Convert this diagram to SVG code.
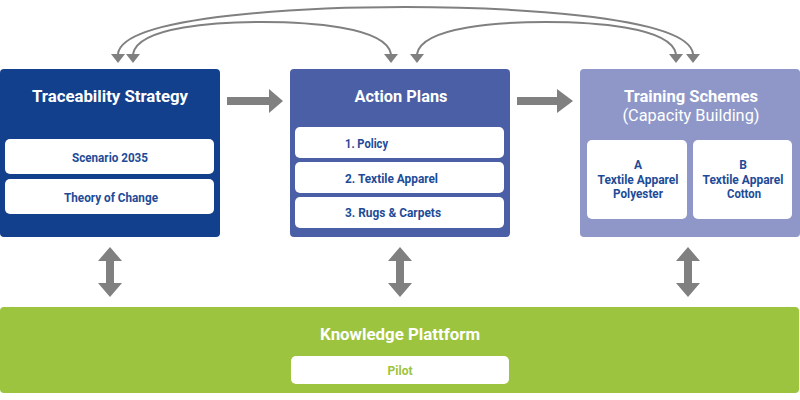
<svg xmlns="http://www.w3.org/2000/svg" width="800" height="400" viewBox="0 0 800 400">
<style>
.t{font-family:Roboto,"Liberation Sans",sans-serif;font-weight:700;fill:#fff;text-anchor:middle}
.s{font-family:Roboto,"Liberation Sans",sans-serif;font-weight:700;fill:#1E4B97;font-size:12px}
.c{text-anchor:middle}
.sub{fill:#fff}
.curve{fill:none;stroke:#808080;stroke-width:2}
.arr{fill:#808080}
</style>
<defs>
<marker id="ah" viewBox="0 0 14 10" refX="7" refY="9" markerWidth="14" markerHeight="10" markerUnits="userSpaceOnUse" orient="auto-start-reverse">
<path d="M0,0 L14,0 L7,10 Z" fill="#808080" transform="rotate(-90 7 5)"/>
</marker>
</defs>
<g id="connectors">
<path class="curve" d="M118,54 C122,14 320,7 405,7 C490,7 689,14 693,54"/>
<path class="curve" d="M133,54 C138,26 220,22 262,22 C304,22 386,26 391,54"/>
<path class="curve" d="M417,54 C422,26 504,22 546,22 C588,22 671,26 676,54"/>
<path class="arr" d="M111,54 L125,54 L118,63 Z"/>
<path class="arr" d="M126,54 L140,54 L133,63 Z"/>
<path class="arr" d="M384,54 L398,54 L391,63 Z"/>
<path class="arr" d="M410,54 L424,54 L417,63 Z"/>
<path class="arr" d="M669,54 L683,54 L676,63 Z"/>
<path class="arr" d="M686,54 L700,54 L693,63 Z"/>
<path class="arr" d="M227,97 L269,97 L269,89 L283,101 L269,113 L269,105 L227,105 Z"/>
<path class="arr" d="M517,97 L557,97 L557,89 L573,101 L557,113 L557,105 L517,105 Z"/>
<path class="arr" d="M110,247 L122,261 L114,261 L114,283 L122,283 L110,297 L98,283 L106,283 L106,261 L98,261 Z"/>
<path class="arr" d="M400,247 L412,261 L404,261 L404,283 L412,283 L400,297 L388,283 L396,283 L396,261 L388,261 Z"/>
<path class="arr" d="M688,247 L700,261 L692,261 L692,283 L700,283 L688,297 L676,283 L684,283 L684,261 L676,261 Z"/>
</g>
<g id="traceability">
<rect x="0" y="69" width="220" height="168" rx="4" fill="#12408C"/>
<text class="t" x="110" y="102" font-size="16" textLength="156" lengthAdjust="spacingAndGlyphs">Traceability Strategy</text>
<rect class="sub" x="5" y="139" width="209" height="35" rx="5"/>
<text class="s c" x="110" y="162" textLength="76" lengthAdjust="spacingAndGlyphs">Scenario 2035</text>
<rect class="sub" x="5" y="179" width="209" height="35" rx="5"/>
<text class="s c" x="111" y="202" textLength="94" lengthAdjust="spacingAndGlyphs">Theory of Change</text>
</g>
<g id="action">
<rect x="290" y="69" width="220" height="168" rx="4" fill="#4A5FA5"/>
<text class="t" x="401" y="102" font-size="16" textLength="93" lengthAdjust="spacingAndGlyphs">Action Plans</text>
<rect class="sub" x="295" y="127" width="209" height="31" rx="5"/>
<text class="s" x="345" y="148" textLength="43" lengthAdjust="spacingAndGlyphs">1. Policy</text>
<rect class="sub" x="295" y="162" width="209" height="31" rx="5"/>
<text class="s" x="345" y="183" textLength="93" lengthAdjust="spacingAndGlyphs">2. Textile Apparel</text>
<rect class="sub" x="295" y="197" width="209" height="31" rx="5"/>
<text class="s" x="345" y="217" textLength="96" lengthAdjust="spacingAndGlyphs">3. Rugs &amp; Carpets</text>
</g>
<g id="training">
<rect x="580" y="69" width="220" height="168" rx="4" fill="#8E97C8"/>
<text class="t" x="691" y="102" font-size="16" textLength="134" lengthAdjust="spacingAndGlyphs">Training Schemes</text>
<text class="t" x="691" y="121" font-size="16" font-weight="400" style="font-weight:400" textLength="137" lengthAdjust="spacingAndGlyphs">(Capacity Building)</text>
<rect class="sub" x="587" y="140" width="100" height="79" rx="5"/>
<text class="s c" x="638" y="169">A</text>
<text class="s c" x="638" y="184" textLength="81" lengthAdjust="spacingAndGlyphs">Textile Apparel</text>
<text class="s c" x="638" y="198" textLength="50" lengthAdjust="spacingAndGlyphs">Polyester</text>
<rect class="sub" x="693" y="140" width="99" height="79" rx="5"/>
<text class="s c" x="743" y="169">B</text>
<text class="s c" x="743" y="184" textLength="81" lengthAdjust="spacingAndGlyphs">Textile Apparel</text>
<text class="s c" x="744" y="198" textLength="34" lengthAdjust="spacingAndGlyphs">Cotton</text>
</g>
<g id="knowledge">
<rect x="0" y="307" width="799" height="86" rx="4" fill="#9CC43E"/>
<text class="t" x="400" y="340" font-size="16" textLength="160" lengthAdjust="spacingAndGlyphs">Knowledge Plattform</text>
<rect class="sub" x="291" y="356" width="218" height="28" rx="5"/>
<text class="s c" x="400" y="375" style="fill:#9CC43E" textLength="25" lengthAdjust="spacingAndGlyphs">Pilot</text>
</g>
</svg>
